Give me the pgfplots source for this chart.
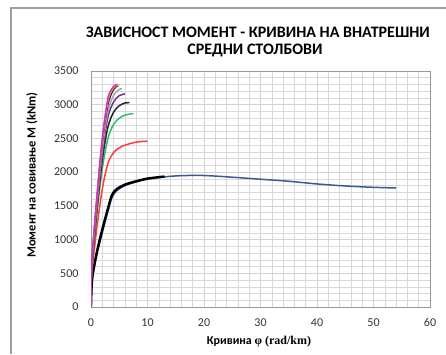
\documentclass[border=0pt]{standalone}
\usepackage{pgfplots}
\pgfplotsset{compat=1.18}
\usepackage{fontspec}
\setmainfont{Carlito}
\newfontfamily\serifb{Liberation Serif}
\definecolor{cpink}{HTML}{CC33CC}
\definecolor{corange}{HTML}{F79646}
\definecolor{cgray}{HTML}{A6A6A6}
\definecolor{cpurple}{HTML}{7030A0}
\definecolor{cdark}{HTML}{262626}
\definecolor{cgreen}{HTML}{2EBF6A}
\definecolor{cred}{HTML}{FF3B3B}
\definecolor{cblue}{HTML}{3A5A94}
\begin{document}
\begin{tikzpicture}[x=1pt,y=1pt]
\useasboundingbox (0,0) rectangle (446,354);
\draw[gray!75, line width=1.2pt] (11,0) -- (11,346) -- (446,346);
\begin{axis}[at={(91pt,47pt)}, anchor=origin, scale only axis,
  width=339pt, height=236pt,
  xmin=0, xmax=60, ymin=0, ymax=3500,
  xtick={0,10,...,60}, ytick={0,500,...,3500},
  minor x tick num=4, minor y tick num=4,
  grid=both, major grid style={gray!35, line width=0.6pt}, minor grid style={gray!30, line width=0.5pt},
  axis line style={gray!80, line width=0.8pt},
  major tick length=0pt, minor tick length=0pt,
  ticklabel style={font=\fontsize{12}{12}\selectfont, text=black!80},
  yticklabel style={xshift=-9pt},
  xticklabel style={yshift=-8pt},
  /pgf/number format/assume math mode=true,
  /pgf/number format/1000 sep={},
  every axis plot/.append style={smooth, tension=0.5, line width=1.5pt, no markers}]
\addplot[cblue] coordinates {(0,0)(0.2,380)(1,760)(2,1100)(3,1420)(3.7,1620)(4.5,1720)(6,1800)(8,1855)(10,1895)(13,1930)(16,1948)(20,1950)(25,1925)(30,1895)(35,1865)(40,1825)(45,1795)(50,1775)(54,1765)};
\addplot[black, line width=2.4pt] coordinates {(0,0)(0.2,420)(1,800)(2,1150)(3,1460)(3.7,1660)(4.5,1745)(6,1815)(8,1865)(10,1905)(13,1935)};
\addplot[cred] coordinates {(0,0)(0.1,450)(1,1150)(2,1750)(3,2130)(4,2290)(5,2360)(6,2400)(8,2445)(10,2460)};
\addplot[cgreen] coordinates {(0,0)(0.1,500)(1,1350)(2,2050)(3,2500)(4,2710)(5,2800)(6,2845)(7.5,2870)};
\addplot[cdark] coordinates {(0,0)(0.1,500)(1,1400)(2,2180)(3,2670)(4,2890)(5,2985)(6,3025)(6.8,3030)};
\addplot[cpurple] coordinates {(0,0)(0.1,550)(1,1450)(2,2270)(3,2820)(4,3040)(5,3135)(6,3160)};
\addplot[cgray] coordinates {(0,0)(0.1,550)(1,1500)(2,2350)(3,2900)(4,3140)(5,3225)(5.5,3240)};
\addplot[black] coordinates {(0,0)(0.1,600)(1,1550)(2,2450)(3,3010)(4,3230)(4.8,3285)};
\addplot[corange] coordinates {(0,0)(0.1,600)(1,1560)(2,2460)(3,3050)(4,3250)(5,3300)};
\addplot[cpink] coordinates {(0,0)(0.1,600)(1,1600)(2,2500)(3,3100)(4,3270)(4.6,3300)};
\end{axis}
\node[font=\fontsize{16}{16}\selectfont\bfseries] at (258,322) {ЗАВИСНОСТ МОМЕНТ - КРИВИНА НА ВНАТРЕШНИ};
\node[font=\fontsize{16}{16}\selectfont\bfseries] at (255,304) {СРЕДНИ СТОЛБОВИ};
\node[font=\fontsize{12.5}{12.5}\selectfont\bfseries, rotate=90] at (32,179) {Момент на совивање M (kNm)};
\node[font=\fontsize{12}{12}\selectfont\bfseries, inner sep=1pt] at (259,12) {Кривина {\serifb φ (rad/km)}};
\end{tikzpicture}
\end{document}
